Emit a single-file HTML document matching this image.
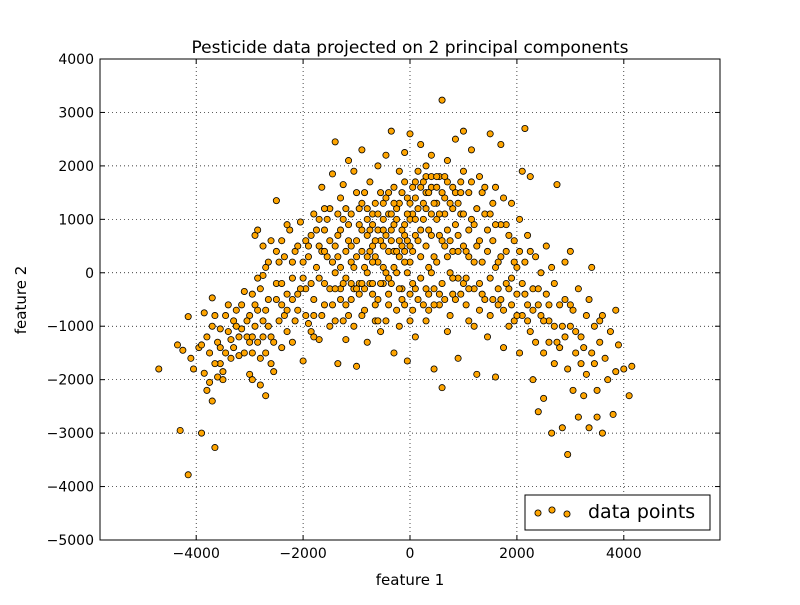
<!DOCTYPE html>
<html><head><meta charset="utf-8"><style>
body{margin:0;background:#fff;}
svg text{font-family:"DejaVu Sans","Liberation Sans",sans-serif;}
</style></head><body>
<svg id="chart" width="800" height="600" xmlns="http://www.w3.org/2000/svg">
<rect width="800" height="600" fill="#fff"/>
<text x="410" y="53" text-anchor="middle" font-size="17">Pesticide data projected on 2 principal components</text>
<g id="grid"></g><g id="pts"></g>
<rect x="100" y="59" width="620" height="481" fill="none" stroke="#000" stroke-width="1"/>
<g id="ticks"></g>
<text x="410" y="585" text-anchor="middle" font-size="15">feature 1</text>
<text transform="translate(26,300) rotate(-90)" text-anchor="middle" font-size="15">feature 2</text>
<g>
<rect x="525" y="495" width="185" height="35" fill="#fff" stroke="#000"/>
<circle cx="538" cy="513" r="3.1" fill="#FFA500" stroke="#000" stroke-width="0.8"/>
<circle cx="552" cy="510" r="3.1" fill="#FFA500" stroke="#000" stroke-width="0.8"/>
<circle cx="567" cy="514" r="3.1" fill="#FFA500" stroke="#000" stroke-width="0.8"/>
<text x="588" y="518" font-size="19">data points</text>
</g>
</svg>
<script>
const xTicks=[-4000,-2000,0,2000,4000];
const yTicks=[-5000,-4000,-3000,-2000,-1000,0,1000,2000,3000,4000];
const pts=[[-4700,-1800],[-4350,-1350],[-4300,-2950],[-4250,-1450],[-4150,-3780],[-4150,-820],[-4100,-1600],[-4050,-1800],[-3950,-1400],[-3900,-1350],[-3900,-3000],[-3850,-1880],[-3850,-750],[-3800,-2200],[-3750,-2050],[-3700,-2400],[-3700,-1000],[-3700,-470],[-3650,-3270],[-3650,-800],[-3600,-1950],[-3550,-1700],[-3550,-1050],[-3500,-1850],[-3500,-2000],[-3450,-1500],[-3400,-600],[-3400,-1100],[-3350,-1250],[-3300,-900],[-3250,-700],[-3200,-1550],[-3150,-1050],[-3100,-350],[-3050,-1200],[-3000,-800],[-3000,-1900],[-2950,-2000],[-2950,-400],[-2900,700],[-2900,-1000],[-2850,800],[-2850,-1300],[-2800,-1600],[-2800,-2100],[-2750,-50],[-2750,500],[-2700,-2300],[-2700,-1500],[-2700,-700],[-2650,200],[-2600,600],[-2600,-1200],[-2550,-1850],[-2500,-200],[-2500,1350],[-2450,-900],[-2400,600],[-2400,-600],[-2350,300],[-2300,-1100],[-2300,-400],[-2250,800],[-2200,-100],[-2200,-1300],[-2150,400],[-2100,-700],[-2050,950],[-2000,-1650],[-2000,200],[-1950,-300],[-1950,600],[-1900,-950],[-1850,-1100],[-1850,700],[-1800,-500],[-1800,1100],[-1750,100],[-1700,-1250],[-1700,500],[-1650,-800],[-1650,1600],[-1600,-200],[-1600,800],[-1550,300],[-1500,-1000],[-1500,1200],[-1450,-600],[-1450,1850],[-1400,2450],[-1400,0],[-1350,-1700],[-1350,700],[-1300,-300],[-1300,1400],[-1250,-900],[-1250,1650],[-1200,400],[-1200,-1250],[-1150,900],[-1150,2100],[-1100,-500],[-1100,200],[-1050,1900],[-1050,-1000],[-1000,600],[-1000,-1750],[-950,1200],[-950,-200],[-900,2300],[-900,800],[-850,-700],[-850,1500],[-800,0],[-800,-1300],[-750,400],[-750,1700],[-700,900],[-700,-400],[-650,1300],[-650,-900],[-600,2000],[-600,200],[-550,600],[-550,-1100],[-500,1000],[-500,-200],[-450,1400],[-450,2200],[-400,-600],[-400,400],[-350,2650],[-350,800],[-300,-1500],[-300,1600],[-250,0],[-250,1200],[-200,-1000],[-200,1900],[-150,500],[-150,-300],[-100,2250],[-100,900],[-50,-1650],[-50,1400],[0,2600],[0,200],[50,-700],[50,1100],[100,1700],[100,-1200],[150,600],[200,2400],[200,-100],[250,1300],[300,-900],[300,2000],[350,800],[350,-400],[400,1600],[400,2200],[450,-1800],[450,300],[500,1000],[550,-600],[550,1800],[600,3230],[600,-2150],[650,500],[650,1400],[700,-1100],[700,2100],[750,0],[800,1200],[850,-500],[850,2500],[900,-1600],[900,700],[950,1700],[1000,2650],[1000,-200],[1050,400],[1100,-900],[1100,1500],[1150,2300],[1200,-300],[1200,900],[1250,-1900],[1300,1800],[1300,-700],[1350,200],[1400,1100],[1450,-1200],[1500,2600],[1500,-100],[1550,600],[1600,-1950],[1600,1600],[1650,-600],[1700,300],[1700,2400],[1750,-1400],[1800,900],[1850,-300],[1900,1300],[1950,-900],[2000,100],[2050,-1500],[2100,1900],[2150,2700],[2150,-400],[2200,700],[2250,1800],[2250,-1100],[2300,-2000],[2350,300],[2400,-2600],[2400,-600],[2450,0],[2500,-1500],[2500,-2350],[2550,500],[2600,-900],[2650,-3000],[2700,-1700],[2700,-200],[2750,1650],[2750,-1300],[2800,-600],[2850,-2900],[2900,200],[2950,-1800],[2950,-3400],[3000,-1000],[3000,400],[3050,-2200],[3100,-1500],[3150,-2700],[3150,-300],[3200,-1200],[3250,-2300],[3300,-800],[3300,-1900],[3350,-2900],[3400,-1500],[3400,100],[3450,-1000],[3500,-2200],[3500,-2700],[3550,-1300],[3600,-3000],[3600,-800],[3650,-1600],[3700,-2000],[3750,-1100],[3800,-2650],[3850,-700],[3850,-1850],[3900,-1350],[4000,-1800],[4100,-2300],[4150,-1750],
[-1400,500],[-1300,100],[-1200,-600],[-1100,1100],[-1000,300],[-950,-400],[-900,1300],[-850,100],[-800,700],[-750,-200],[-700,1100],[-650,300],[-600,-500],[-600,800],[-550,1500],[-500,100],[-450,-900],[-450,700],[-400,1100],[-350,-200],[-300,400],[-300,900],[-250,-700],[-200,300],[-200,1300],[-150,-500],[-100,700],[-100,1700],[-50,0],[0,1000],[0,-900],[50,400],[100,1400],[100,-300],[150,1900],[200,800],[250,-600],[300,1500],[350,100],[400,1100],[450,-300],[500,1600],[550,700],[600,-200],[650,1100],[700,1700],[750,-800],[800,400],[850,1500],[900,-100],[950,1100],[1000,500],[1050,-600],[1100,800],[1150,1700],[1200,-1000],[1250,500],[1300,-200],[1350,1500],[1400,-500],[1450,800],[1500,-800],[1550,1300],[1600,100],[1650,-300],[1700,900],[1750,-700],[1800,400],[1850,-1000],[1900,-100],[1950,600],[2000,-400],[2050,1000],[2100,-800],[2150,200],[2200,-600],[2300,-300],[2350,-1300],[2450,-800],[2550,-400],[2600,-1300],[2650,100],[2850,-1000],[2900,-500],[3050,-700],[3200,-1700],[-2900,-600],[-2800,-300],[-2700,100],[-2650,-1000],[-2500,-500],[-2450,200],[-2400,-1400],[-2350,-800],[-2300,900],[-2200,-500],[-2150,-900],[-2100,500],[-2050,-300],[-1950,-800],[-1900,300],[-1850,-200],[-1800,-1200],[-1750,800],[-1700,-100],[-1650,400],[-1600,-600],[-1550,1000],[-1500,-300],[-1450,200],[-1400,-900],[-1350,1100],[-1300,-500],[-1250,1000],[-1200,-100],[-1150,-800],[-1100,500],[-1050,-300],[-3200,-1200],[-3100,-1500],[-3000,-1300],[-2950,-1500],[-3300,-1400],[-3600,-1300],[-3800,-1200],[-2600,-1700],[-2750,-900],[-2850,-100],[-700,500],[-500,1300],[-300,1300],[-100,400],[100,1000],[300,1800],[500,1300],[700,800],[900,1300],[1000,1900],[600,1500],[400,1800],[200,1600],[-800,1000],[-1000,1500],[-200,600],[0,-400],[300,-300],[-400,-400],[-600,-900],[-900,-800],[800,-400],[1100,-300],[-50,1100],
[-1350,300],[-1250,-200],[-1150,600],[-1050,100],[-950,900],[-900,400],[-850,-300],[-800,1200],[-750,800],[-700,200],[-650,-600],[-650,600],[-600,1100],[-550,-200],[-500,500],[-500,800],[-450,0],[-400,1500],[-400,-100],[-350,600],[-350,1100],[-300,100],[-250,400],[-250,1000],[-200,-300],[-150,800],[-150,1500],[-100,-600],[-100,200],[-50,600],[0,1300],[0,500],[50,-200],[50,1600],[100,700],[150,1200],[150,-500],[200,300],[250,1000],[250,1700],[300,500],[300,1200],[350,-700],[350,1500],[400,0],[400,700],[450,1300],[450,-600],[500,200],[500,1800],[550,1100],[550,-400],[600,600],[650,-500],[650,1800],[700,300],[750,1300],[750,600],[800,-100],[800,1600],[850,900],[900,400],[950,-400],[950,1500],[1000,1100],[1050,-100],[1100,300],[1150,1000],[1200,200],[1250,1200],[1300,600],[1350,-400],[1400,1600],[1450,400],[1500,1100],[1550,-500],[1600,900],[1650,200],[1700,-500],[1750,1400],[1800,-200],[1850,700],[1900,-600],[1950,200],[2000,-800],[2050,400],[2100,-200],[2200,-900],[2250,400],[2300,-700],[2400,-300],[2500,-900],[2600,-600],[2700,-1000],[2800,-1400],[2900,-1200],[3000,-600],[3100,-1100],[3250,-1400],[3350,-500],[3450,-1700],[3550,-900],[-1800,-800],[-1900,500],[-2000,-100],[-2100,-400],[-2200,200],[-2300,-700],[-2400,-200],[-2500,400],[-2550,-1300],[-2650,-500],[-2750,-1200],[-2850,-700],[-2950,-1200],[-3050,-900],[-3150,-600],[-3250,-1000],[-3350,-1600],[-3450,-800],[-3550,-1400],[-3650,-1700],[-3750,-1500],[-1600,400],[-1500,600],[-1400,-300],[-1300,800],[-1200,1200],[-1100,-200],[-1000,-300],[-900,-200],[-800,300],[-700,-200],[-1700,1000],[-1600,1200]];
const xMin=-5800,xMax=5800,yMin=-5000,yMax=4000;
const L=100,R=720,T=59,B=540;
const sx=v=>L+(v-xMin)/(xMax-xMin)*(R-L);
const sy=v=>B-(v-yMin)/(yMax-yMin)*(B-T);
const NS="http://www.w3.org/2000/svg";
const grid=document.getElementById('grid'),tk=document.getElementById('ticks'),pg=document.getElementById('pts');
function mk(tag,attrs,parent){const e=document.createElementNS(NS,tag);for(const k in attrs)e.setAttribute(k,attrs[k]);parent.appendChild(e);return e;}
xTicks.forEach(v=>{const x=sx(v);
const g=mk('line',{x1:x,x2:x,y1:T,y2:B,stroke:'#000','stroke-width':0.7,'stroke-dasharray':'1,3'},grid);


mk('line',{x1:x,x2:x,y1:B,y2:B-5,stroke:'#000'},tk);
mk('line',{x1:x,x2:x,y1:T,y2:T+5,stroke:'#000'},tk);
const t=mk('text',{x:x,y:B+18,'text-anchor':'middle','font-size':14},tk);
t.textContent=(v<0?'\u2212':'')+Math.abs(v);

});
yTicks.forEach(v=>{const y=sy(v);
const g=mk('line',{x1:L,x2:R,y1:y,y2:y,stroke:'#000','stroke-width':0.7,'stroke-dasharray':'1,3'},grid);


mk('line',{x1:L,x2:L+5,y1:y,y2:y,stroke:'#000'},tk);
mk('line',{x1:R,x2:R-5,y1:y,y2:y,stroke:'#000'},tk);
const t=mk('text',{x:L-6,y:y+5,'text-anchor':'end','font-size':14},tk);
t.textContent=(v<0?'\u2212':'')+Math.abs(v);

});
pts.forEach(p=>{const c=mk('circle',{cx:sx(p[0]),cy:sy(p[1]),r:3.1,fill:'#FFA500',stroke:'#000','stroke-width':0.8},pg);

});
</script>
</body></html>
